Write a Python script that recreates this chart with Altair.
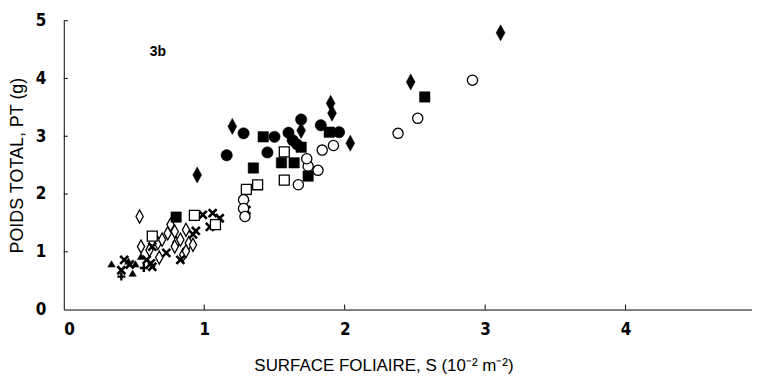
import altair as alt
import pandas as pd

# ---- data ----
fd_x = [3.11, 2.47, 1.90, 1.91, 1.69, 2.04, 1.20, 0.95]
fd_y = [4.79, 3.94, 3.57, 3.40, 3.10, 2.88, 3.17, 2.33]

fc_x = [1.28, 1.50, 1.60, 1.63, 1.69, 1.83, 1.96, 1.16, 1.45, 1.66]
fc_y = [3.05, 2.99, 3.06, 2.93, 3.29, 3.19, 3.07, 2.67, 2.72, 2.86]

fs_x = [1.42, 1.89, 1.69, 1.55, 1.64, 1.35, 1.74, 2.57, 0.80]
fs_y = [2.99, 3.07, 2.81, 2.54, 2.54, 2.45, 2.31, 3.68, 1.60]

os_x = [1.57, 1.57, 1.38, 1.30, 0.63, 0.93, 1.08]
os_y = [2.73, 2.24, 2.16, 2.08, 1.27, 1.63, 1.47]

oc_x = [2.91, 2.52, 2.38, 1.84, 1.92, 1.74, 1.81, 1.67, 1.73, 1.28, 1.28, 1.29]
oc_y = [3.97, 3.31, 3.05, 2.76, 2.84, 2.48, 2.41, 2.16, 2.61, 1.90, 1.75, 1.61]

od_x = [0.54, 0.55, 0.61, 0.67, 0.70, 0.74, 0.76, 0.79, 0.68, 0.80, 0.83, 0.87, 0.89, 0.85, 0.92, 0.87, 0.79]
od_y = [1.61, 1.09, 1.03, 1.15, 1.21, 1.32, 1.47, 1.35, 0.90, 1.15, 1.21, 1.38, 1.15, 0.95, 1.12, 1.01, 1.09]

cx_x = [0.43, 0.47, 0.59, 0.63, 0.63, 0.73, 0.83, 0.99, 1.04, 1.06, 1.11, 0.94, 1.29, 1.30, 0.41, 0.62, 0.92]
cx_y = [0.86, 0.78, 0.86, 0.74, 1.09, 0.98, 0.86, 1.64, 1.43, 1.67, 1.58, 1.36, 1.83, 1.72, 0.68, 0.80, 1.30]

tr_x = [0.34, 0.49, 0.51, 0.46, 0.55]
tr_y = [0.79, 0.63, 0.79, 0.84, 0.92]

pl_x = [0.41, 0.57]
pl_y = [0.57, 0.72]

x_ticks = [0, 1, 2, 3, 4]
y_ticks = [0, 1, 2, 3, 4, 5]

label_text = ["3b"]
label_x = [0.67]
label_y = [4.45]

# ---- chart ----
W, H = 691, 290
LABEL_FONT = "Liberation Sans Narrow, DejaVu Sans Condensed, sans-serif"
TITLE_FONT = "Liberation Sans, Arial, sans-serif"

xs = alt.Scale(domain=[0, 4.9], nice=False, zero=False)
ys = alt.Scale(domain=[0, 5], nice=False, zero=False)

x_axis = alt.Axis(values=x_ticks, ticks=False, grid=False, domainColor="black",
                  labelFont=LABEL_FONT, labelFontWeight="bold", labelFontSize=17,
                  labelPadding=12, labelColor="black",
                  title="SURFACE FOLIAIRE, S (10\u207b\u00b2 m\u207b\u00b2)",
                  titleFont=TITLE_FONT, titleFontWeight="normal", titleFontSize=17,
                  titlePadding=20, titleColor="black", titleX=321, titleAlign="center",
                  format="d")
y_axis = alt.Axis(values=y_ticks, ticks=False, grid=False, domainColor="black",
                  labelFont=LABEL_FONT, labelFontWeight="bold", labelFontSize=17,
                  labelPadding=18, labelColor="black",
                  title="POIDS TOTAL, PT (g)",
                  titleFont=TITLE_FONT, titleFontWeight="normal", titleFontSize=18,
                  titlePadding=9, titleColor="black", format="d")

TALL_DIAMOND = "M0,-1L0.55,0L0,1L-0.55,0Z"
XCROSS = "M-1,-1L1,1M-1,1L1,-1"
PLUS = "M-1,0L1,0M0,-1L0,1"

X = lambda f: alt.X(f, scale=xs, axis=x_axis)
Y = lambda f: alt.Y(f, scale=ys, axis=y_axis)


def series(xv, yv, shape, size, fill, stroke="black", sw=1.3):
    df = pd.DataFrame({"x": xv, "y": yv})
    kw = dict(shape=shape, size=size, stroke=stroke, strokeWidth=sw, opacity=1)
    if fill is None:
        kw.update(filled=False, fillOpacity=0)
    else:
        kw.update(filled=True, fill=fill, fillOpacity=1)
    return alt.Chart(df).mark_point(**kw).encode(x=X("x:Q"), y=Y("y:Q"))


layers = [
    series(od_x, od_y, TALL_DIAMOND, 175, "white"),
    series(cx_x, cx_y, XCROSS, 64, None, sw=2.6),
    series(tr_x, tr_y, "triangle-up", 55, "black", sw=0.5),
    series(pl_x, pl_y, PLUS, 64, None, sw=2.4),
    series(os_x, os_y, "square", 100, "white"),
    series(oc_x, oc_y, "circle", 105, "white"),
    series(fs_x, fs_y, "square", 110, "black", sw=0.5),
    series(fc_x, fc_y, "circle", 130, "black", sw=0.5),
    series(fd_x, fd_y, TALL_DIAMOND, 260, "black", sw=0.5),
]

# inward ticks
xt = alt.Chart(pd.DataFrame({"t": x_ticks[1:]})).mark_rule(color="black", strokeWidth=1).encode(
    x=X("t:Q"), y=alt.value(H), y2=alt.value(H - 5))
yt = alt.Chart(pd.DataFrame({"t": y_ticks[1:]})).mark_rule(color="black", strokeWidth=1).encode(
    y=Y("t:Q"), x=alt.value(0), x2=alt.value(4))

lab = alt.Chart(pd.DataFrame({"x": label_x, "y": label_y, "t": label_text})).mark_text(
    font="Liberation Sans, Arial, sans-serif", fontWeight="bold", fontSize=14, color="black"
).encode(x=X("x:Q"), y=Y("y:Q"), text="t:N")

chart = alt.layer(*layers, xt, yt, lab).properties(
    width=W, height=H,
    autosize=alt.AutoSizeParams(type="none"),
    padding={"left": 56, "top": 12, "right": 0, "bottom": 70},
    background="white",
).configure_view(stroke=None)

chart.save("out.html", embed_options={"renderer": "svg", "actions": False})
